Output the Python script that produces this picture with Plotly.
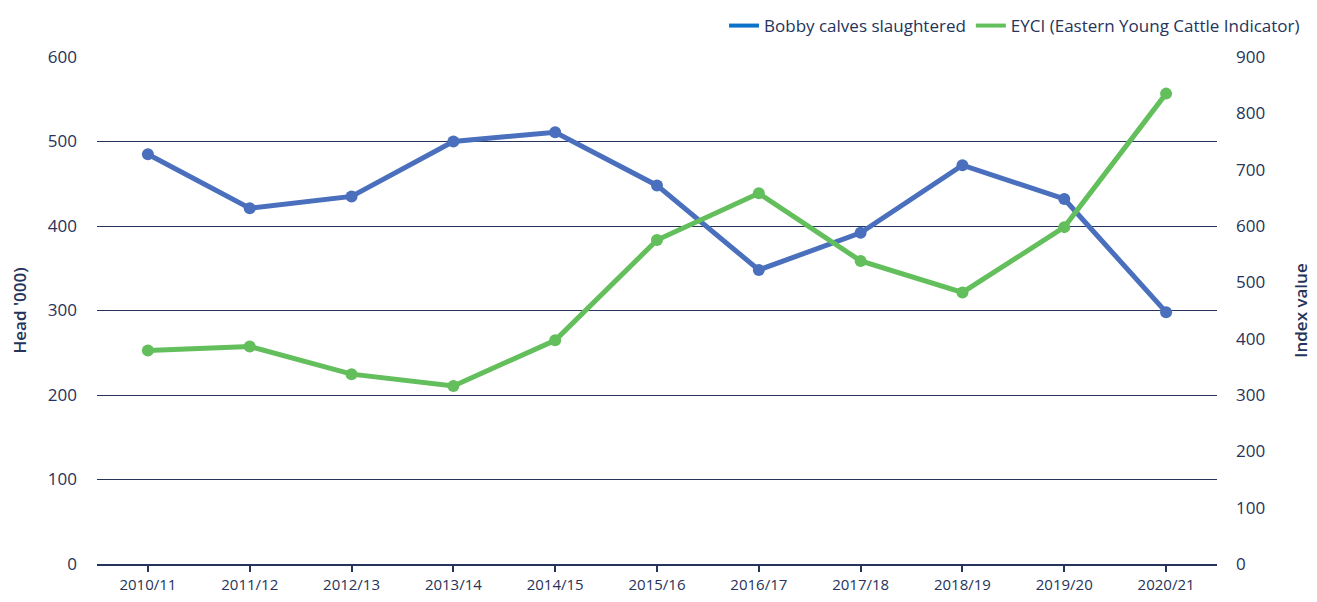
import plotly.graph_objects as go

seasons = ["2010/11", "2011/12", "2012/13", "2013/14", "2014/15", "2015/16",
           "2016/17", "2017/18", "2018/19", "2019/20", "2020/21"]
bobby_calves = [485, 421, 435, 500, 511, 448, 348, 392, 472, 432, 298]
eyci = [379, 386, 337, 316, 397, 575, 658, 538, 482, 598, 835]

left_ticks = [0, 100, 200, 300, 400, 500, 600]
right_ticks = [0, 100, 200, 300, 400, 500, 600, 700, 800, 900]

NAVY = "#26335a"
BLUE = "#4a6fbd"
GREEN = "#63be5c"
FONT = "Open Sans"

fig = go.Figure()
fig.add_trace(go.Scatter(x=seasons, y=bobby_calves, mode="lines+markers",
                         line=dict(color=BLUE, width=5), marker=dict(size=12, color=BLUE),
                         showlegend=False, yaxis="y"))
fig.add_trace(go.Scatter(x=seasons, y=eyci, mode="lines+markers",
                         line=dict(color=GREEN, width=5), marker=dict(size=12, color=GREEN),
                         showlegend=False, yaxis="y2"))
# legend entries
fig.add_trace(go.Scatter(x=[None], y=[None], mode="lines", name="Bobby calves slaughtered",
                         line=dict(color="#0b72c9", width=4)))
fig.add_trace(go.Scatter(x=[None], y=[None], mode="lines", name="EYCI (Eastern Young Cattle Indicator)",
                         line=dict(color=GREEN, width=4)))

fig.update_layout(
    width=1309, height=594,
    margin=dict(l=89, r=100, t=49, b=38, autoexpand=False),
    paper_bgcolor="white", plot_bgcolor="white",
    font=dict(family=FONT, color=NAVY, size=15),
    legend=dict(orientation="h", x=1.0786, xanchor="right", y=1.0966, yanchor="top",
                font=dict(size=17, color=NAVY), itemwidth=30, tracegroupgap=0,
                bgcolor="rgba(0,0,0,0)"),
    xaxis=dict(type="category", showgrid=False, showline=True, linecolor=NAVY, linewidth=1.5,
               ticks="outside", ticklen=6, tickcolor=NAVY, tickwidth=1.5, automargin=False,
               tickfont=dict(size=15, color=NAVY), range=[-0.5, 10.5]),
    yaxis=dict(range=[0, 600], tickvals=left_ticks, showgrid=True, gridcolor=NAVY, gridwidth=1,
               zeroline=False, showline=False, tickfont=dict(size=17, color=NAVY),
               ticklabelstandoff=19, automargin=False,
               title=dict(text="Head '000)", font=dict(size=17, color=NAVY, weight=600), standoff=32)),
    yaxis2=dict(range=[0, 900], tickvals=right_ticks, overlaying="y", side="right",
                showgrid=False, zeroline=False, showline=False, automargin=False,
                tickfont=dict(size=17, color=NAVY), ticklabelstandoff=18,
                title=dict(text="Index value", font=dict(size=17, color=NAVY, weight=600), standoff=30)),
)

fig.write_html("out.html")
